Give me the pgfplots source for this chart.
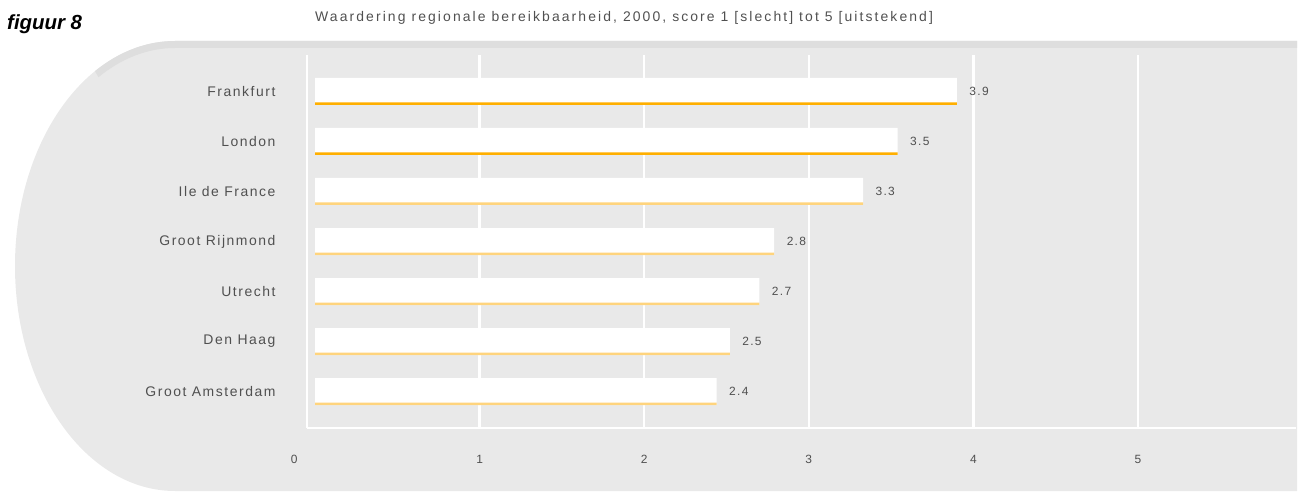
\documentclass[border=0pt]{standalone}
\usepackage{fontspec}
\setmainfont{Liberation Sans}
\newfontfamily\spaced[LetterSpace=11]{Liberation Sans}
\newfontfamily\titlespaced[LetterSpace=15]{Liberation Sans}
\usepackage{pgfplots}
\usetikzlibrary{calc}
\pgfplotsset{compat=1.18}
\definecolor{bggray}{RGB}{233,233,233}
\definecolor{bandgray}{RGB}{222,222,222}
\definecolor{darkor}{RGB}{255,175,0}
\definecolor{lightor}{RGB}{255,212,125}
\definecolor{txtgray}{RGB}{80,80,80}
\begin{document}
\begin{tikzpicture}[x=1bp,y=1bp]
\useasboundingbox (0,0) rectangle (1298,-493);
\fill[bggray] (1297,-41) -- (175,-41) arc[start angle=90, end angle=270, x radius=160, y radius=225] -- (1297,-491) -- cycle;
\fill[bandgray] (1297,-41) -- (175,-41) arc[start angle=90, end angle=120, x radius=160, y radius=225]
  -- ($(175,-266)+(120:153 and 218)$) arc[start angle=120, end angle=90, x radius=153, y radius=218] -- (1297,-48) -- cycle;
\node[anchor=base west, inner sep=0pt, font=\fontsize{20.5}{24}\selectfont\bfseries\itshape] at (7,-30) {figuur 8};
\node[anchor=base west, inner sep=0pt, text=txtgray, font=\titlespaced\fontsize{14}{16}\selectfont] at (315,-22) {Waardering regionale bereikbaarheid, 2000, score 1 [slecht] tot 5 [uitstekend]};
\begin{axis}[
  at={(307bp,-428bp)}, anchor=south west, scale only axis,
  width=989bp, height=373bp,
  xmin=-0.0486, xmax=5.96, ymin=-0.73, ymax=6.73,
  xbar,
  /pgf/number format/assume math mode=true,
  ytick={0,...,6},
  yticklabels={Groot Amsterdam,Den Haag,Utrecht,Groot Rijnmond,Ile de France,London,Frankfurt},
  xtick={1,...,5},
  extra x ticks={0},
  extra x tick labels={\makebox[0pt][r]{0\hspace{17.5bp}}},
  extra x tick style={grid=none},
  xmajorgrids, grid style={white, line width=2.5bp},
  axis x line*=bottom, axis y line*=left,
  axis line style={-, white, line width=2.5bp},
  major tick length=0pt,
  tick label style={text=txtgray},
  yticklabel style={font=\spaced\fontsize{14}{16}\selectfont, xshift=-28bp},
  xticklabel style={font=\spaced\fontsize{12}{14}\selectfont, yshift=-24bp},
  clip=false,
]
\addplot[xbar, fill=white, draw=none, bar width=27bp, bar shift=0pt,
  nodes near coords, nodes near coords align={horizontal}, point meta=x,
  nodes near coords style={font=\spaced\fontsize{12}{14}\selectfont, text=txtgray, anchor=west, xshift=9bp,
    /pgf/number format/.cd, fixed, fixed zerofill, precision=1, assume math mode=true}]
  coordinates {(2.44,0) (2.52,1) (2.70,2) (2.79,3) (3.33,4) (3.54,5) (3.9,6)};
\addplot[xbar, fill=lightor, draw=none, bar width=2.5bp, bar shift=-12.25bp]
  coordinates {(2.44,0) (2.52,1) (2.70,2) (2.79,3) (3.33,4)};
\addplot[xbar, fill=darkor, draw=none, bar width=2.5bp, bar shift=-12.25bp]
  coordinates {(3.54,5) (3.9,6)};
\end{axis}
\end{tikzpicture}
\end{document}
